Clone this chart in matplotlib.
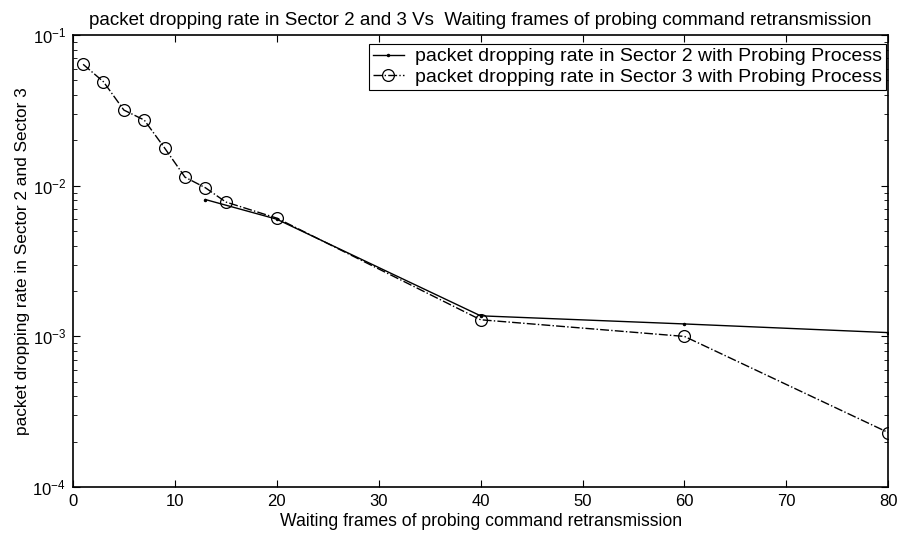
import matplotlib
matplotlib.use("Agg")
import matplotlib.pyplot as plt
from matplotlib.ticker import LogLocator, FixedLocator

plt.rcParams["font.family"] = ["Liberation Sans", "DejaVu Sans"]
plt.rcParams["mathtext.fontset"] = "custom"
plt.rcParams["mathtext.rm"] = "Liberation Sans"
plt.rcParams["mathtext.it"] = "Liberation Sans:italic"

# waiting frames (x) and packet dropping rate (y)
sector2_x = [13, 20, 40, 60, 80]
sector2_y = [0.0081, 0.0060, 0.00137, 0.00121, 0.00106]

sector3_x = [1, 3, 5, 7, 9, 11, 13, 15, 20, 40, 60, 80]
sector3_y = [0.064, 0.049, 0.0318, 0.0273, 0.0178, 0.0114, 0.0097, 0.0078,
             0.0061, 0.00129, 0.00100, 0.00023]

x_ticks = [0, 10, 20, 30, 40, 50, 60, 70, 80]

TITLE = "packet dropping rate in Sector 2 and 3 Vs  Waiting frames of probing command retransmission"
X_LABEL = "Waiting frames of probing command retransmission"
Y_LABEL = "packet dropping rate in Sector 2 and Sector 3"
LEG_2 = "packet dropping rate in Sector 2 with Probing Process"
LEG_3 = "packet dropping rate in Sector 3 with Probing Process"

fig = plt.figure(figsize=(9, 5.4), dpi=100)
ax = fig.add_axes([0.081, 0.098, 0.906, 0.837])

ax.semilogy(sector2_x, sector2_y, "k-", marker=".", markersize=3, linewidth=1.0, label=LEG_2)
ax.semilogy(sector3_x, sector3_y, "k-.", marker="o", markersize=8.5, markerfacecolor="none",
            markeredgewidth=0.9, linewidth=1.0, label=LEG_3)

ax.set_xlim(0, 80)
ax.set_ylim(1e-4, 1e-1)
ax.xaxis.set_major_locator(FixedLocator(x_ticks))
ax.yaxis.set_major_locator(LogLocator(base=10))
ax.yaxis.set_minor_locator(LogLocator(base=10, subs=range(2, 10)))
ax.tick_params(which="both", direction="in", top=True, right=True, labelsize=12)
ax.tick_params(which="major", length=5, pad=5)
ax.tick_params(which="minor", length=3)
for s in ax.spines.values():
    s.set_linewidth(1.2)

ax.set_title(TITLE, fontsize=13.5, pad=7)
ax.set_xlabel(X_LABEL, fontsize=12.7, labelpad=3)
ax.set_ylabel(Y_LABEL, fontsize=12.4, labelpad=2)

leg = ax.legend(loc="upper right", bbox_to_anchor=(1.0, 0.985), fontsize=14, fancybox=False,
                framealpha=1, edgecolor="black", borderpad=0.2, labelspacing=0.15,
                handlelength=1.6, handletextpad=0.6, borderaxespad=0.1)
leg.get_frame().set_linewidth(0.8)

fig.savefig("out.png", dpi=100)
plt.close(fig)
